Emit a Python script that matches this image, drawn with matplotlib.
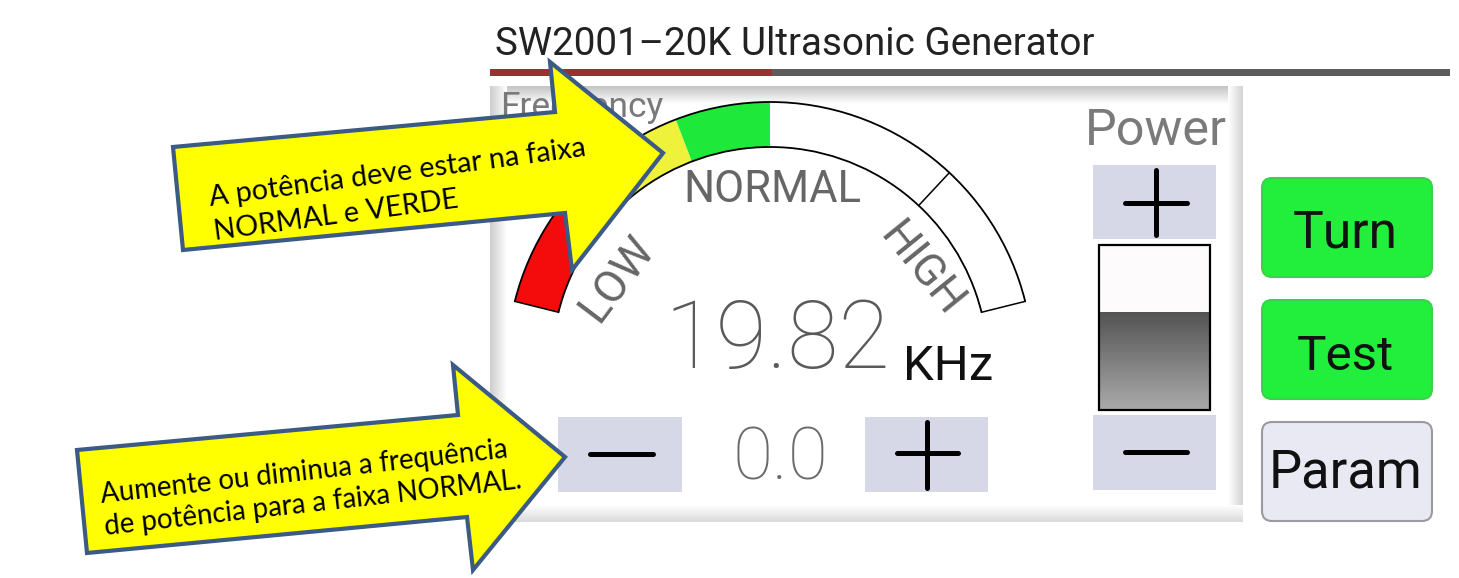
import numpy as np
import matplotlib
matplotlib.use("Agg")
import matplotlib.pyplot as plt
from matplotlib.patches import Rectangle, Wedge, Arc, Polygon, FancyBboxPatch
from matplotlib.colors import LinearSegmentedColormap

# screen texts
title = "SW2001–20K Ultrasonic Generator"
freq_value = "19.82"
freq_unit = "KHz"
step_value = "0.0"

# gauge bands (visual degrees, from left end towards the right)
band_start = [166, 139, 111, 90]
band_end = [139, 111, 90, 14]
band_colors = ["#f40c0c", "#eef23a", "#1ee83a", "#ffffff"]
high_tick = 47
gauge_labels = ["LOW", "NORMAL", "HIGH"]
label_rot = [53, 0, -51]

power_level = 0.59          # filled part of the power slider
side_buttons = ["Turn", "Test", "Param"]
side_colors = ["#22ee3c", "#22ee3c", "#e9e9f3"]

callouts = ["A potência deve estar na faixa\nNORMAL e VERDE",
            "Aumente ou diminua a frequência\nde potência para a faixa NORMAL."]

W, H = 1459, 578
fig = plt.figure(figsize=(W / 100, H / 100), dpi=100)
ax = fig.add_axes([0, 0, 1, 1])
ax.set_xlim(0, W)
ax.set_ylim(H, 0)
ax.axis("off")
rend = fig.canvas.get_renderer()


def fit(x, y, s, width, rot=0, **kw):
    # size the text so it spans the given width in pixels
    t = ax.text(x, y, s, fontsize=20, **kw)
    w = t.get_window_extent(renderer=rend).width
    t.set_fontsize(20 * width / w)
    t.set_rotation(rot)
    return t


def grad(x0, x1, y0, y1, c0, c1, vertical=True, z=1):
    cm = LinearSegmentedColormap.from_list("g", [c0, c1])
    a = np.linspace(0, 1, 64)
    a = a[:, None] if vertical else a[None, :]
    ax.imshow(a, cmap=cm, extent=[x0, x1, y1, y0], origin="upper",
              aspect="auto", zorder=z, interpolation="bilinear")


# header
fit(495, 55, title, 600, family="Roboto", color="#222222", va="baseline")
ax.add_patch(Rectangle((490, 69), 282, 7, color="#9a3030", lw=0))
ax.add_patch(Rectangle((772, 69), 678, 7, color="#5c5c5c", lw=0))

# panel with soft shaded edges
grad(490, 1243, 86, 104, "#c4c4c4", "#ffffff")
grad(490, 507, 86, 522, "#cdcdcd", "#ffffff", vertical=False, z=1.1)
grad(1228, 1243, 86, 522, "#ffffff", "#d4d4d4", vertical=False, z=1.1)
grad(490, 1243, 505, 522, "#ffffff", "#dadada", z=1.2)
fit(500, 117, "Frequency", 163, family="Roboto", color="#7a7a7a", va="baseline", zorder=2)

# gauge
cx, cy, r_out, band = 770, 365, 263, 45
for s, e, c in zip(band_start, band_end, band_colors):
    ax.add_patch(Wedge((cx, cy), r_out, -s, -e, width=band, color=c, lw=0, zorder=3))
for r in (r_out, r_out - band):
    ax.add_patch(Arc((cx, cy), 2 * r, 2 * r, theta1=-band_start[0], theta2=-band_end[-1],
                     color="black", lw=1.3, zorder=4))
for a in (band_start[0], band_end[-1], high_tick):
    t = np.radians(a)
    ax.plot([cx + r_out * np.cos(t), cx + (r_out - band) * np.cos(t)],
            [cy - r_out * np.sin(t), cy - (r_out - band) * np.sin(t)],
            color="black", lw=1.1, zorder=4)

lab_pos = [(617, 279), (772, 190), (921, 270)]
lab_w = [95, 178, 106]
for (x, y), s, rot, w in zip(lab_pos, gauge_labels, label_rot, lab_w):
    fit(x, y, s, w, rot=rot, family="Roboto", color="#666666", ha="center",
        va="center", rotation_mode="anchor", zorder=4)

fit(777, 368, freq_value, 226, family="Roboto", fontweight="light", color="#5a5a5a",
    ha="center", va="baseline", zorder=4)
fit(948, 380, freq_unit, 90, family="Roboto", color="#111111",
    ha="center", va="baseline", zorder=4)

# frequency step buttons
btn = "#d6d8e8"
ax.add_patch(Rectangle((558, 417), 124, 75, color=btn, lw=0, zorder=3))
ax.add_patch(Rectangle((865, 417), 123, 75, color=btn, lw=0, zorder=3))
ax.plot([590, 653], [454, 454], color="black", lw=3.6, zorder=4, solid_capstyle="round")
ax.plot([897, 958], [453, 453], color="black", lw=3.6, zorder=4, solid_capstyle="round")
ax.plot([927, 927], [422, 488], color="black", lw=3.6, zorder=4, solid_capstyle="round")
fit(780, 480, step_value, 96, family="Roboto", fontweight="light", color="#6a6a6a",
    ha="center", va="baseline", zorder=4)

# power column
fit(1156, 145, "Power", 142, family="Roboto", color="#7a7a7a", ha="center",
    va="baseline", zorder=4)
ax.add_patch(Rectangle((1093, 165), 123, 74, color=btn, lw=0, zorder=3))
ax.add_patch(Rectangle((1093, 415), 123, 75, color=btn, lw=0, zorder=3))
ax.plot([1125, 1187], [203, 203], color="black", lw=3.6, zorder=4, solid_capstyle="round")
ax.plot([1156, 1156], [170, 235], color="black", lw=3.6, zorder=4, solid_capstyle="round")
ax.plot([1125, 1187], [452, 452], color="black", lw=3.6, zorder=4, solid_capstyle="round")
sy0, sy1 = 245, 410
fill_top = sy1 - power_level * (sy1 - sy0)
ax.add_patch(Rectangle((1099, sy0), 111, sy1 - sy0, facecolor="#fdfbfb", lw=0, zorder=3))
grad(1099, 1210, fill_top, sy1, "#545454", "#aaaaaa", z=3.5)
ax.add_patch(Rectangle((1099, sy0), 111, sy1 - sy0, fill=False, ec="black", lw=1.6, zorder=4))

# side buttons
for i, (s, c) in enumerate(zip(side_buttons, side_colors)):
    y0 = 178 + i * 122
    ec = "#9a9aa0" if i == 2 else "#3ad24a"
    ax.add_patch(FancyBboxPatch((1262, y0), 170, 99, boxstyle="round,pad=0,rounding_size=10",
                                fc=c, ec=ec, lw=1.5, zorder=3))
fit(1345, 247, "Turn", 105, family="Roboto", color="#111111",
    ha="center", va="baseline", zorder=4)
fit(1345, 370, "Test", 97, family="Roboto", color="#111111",
    ha="center", va="baseline", zorder=4)
fit(1346, 488, "Param", 154, family="Roboto", color="#111111",
    ha="center", va="baseline", zorder=4)

# yellow callout arrows
arrow1 = [(173, 147), (555, 112), (550, 62), (663, 153), (572, 270), (565, 213), (183, 250)]
arrow2 = [(77, 450), (458, 415), (453, 365), (565, 457), (473, 570), (467, 517), (87, 553)]
for pts in (arrow1, arrow2):
    ax.add_patch(Polygon(pts, closed=True, fc="#ffff00", ec="#3b5a86", lw=3,
                         joinstyle="miter", zorder=10))
fit(400, 190, callouts[0], 380, rot=7.6, family="Lato", color="black", ha="center",
    va="center", rotation_mode="anchor", multialignment="left", linespacing=1.35, zorder=11)
fit(311, 488, callouts[1], 420, rot=6.4, family="Lato", color="black", ha="center",
    va="center", rotation_mode="anchor", multialignment="left", linespacing=1.3, zorder=11)

ax.set_xlim(0, W)
ax.set_ylim(H, 0)
fig.savefig("out.png", dpi=100)
